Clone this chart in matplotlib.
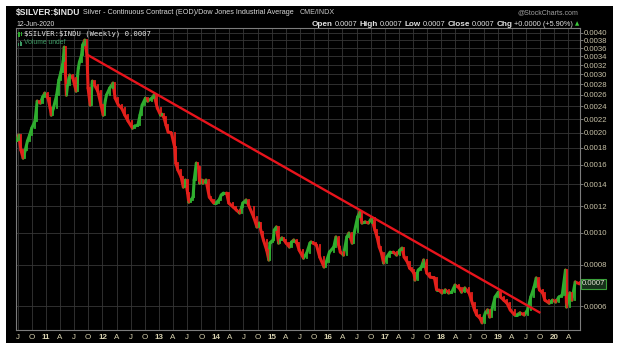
#!/usr/bin/env python3
"""$SILVER:$INDU weekly ratio chart, StockCharts style"""

import numpy as np
import pandas as pd
import matplotlib
matplotlib.use("Agg")
import matplotlib.pyplot as plt
import matplotlib.dates as mdates
from matplotlib.patches import Rectangle
from matplotlib.collections import LineCollection
from matplotlib.ticker import FixedLocator, NullLocator, FuncFormatter

# ---- data ----
START = "2010-06-25"  # week 0

weeks = [0, 2, 4, 6, 8, 10, 12, 14, 17, 19,
         22, 24, 26, 29, 31, 32, 34, 37, 39, 41,
         43, 44, 46, 47, 49, 52, 55, 57, 58, 60,
         61, 63, 65, 66, 68, 70, 72, 75, 78, 80,
         82, 83, 86, 89, 91, 94, 97, 100, 103, 107,
         109, 112, 114, 116, 119, 121, 125, 127, 130, 133,
         134, 136, 138, 140, 143, 146, 147, 149, 152, 154,
         156, 158, 159, 161, 163, 164, 166, 168, 169, 171,
         172, 175, 178, 180, 182, 184, 187, 189, 191, 194,
         196, 200, 203, 206, 208, 209, 212, 215, 219, 222,
         224, 226, 228, 231, 233, 234, 235, 237, 238, 240,
         242, 243, 245, 247, 249, 252, 254, 256, 259, 261,
         265, 268, 271, 272, 274, 277, 280, 284, 286, 289,
         293, 295, 298, 299, 302, 305, 307, 310, 312, 315,
         317, 319, 322, 325, 328, 331, 333, 335, 337, 339,
         342, 345, 348, 351, 354, 356, 358, 361, 363, 365,
         367, 368, 371, 374, 376, 379, 382, 386, 388, 390,
         393, 396, 399, 402, 405, 409, 411, 414, 418, 421,
         423, 425, 428, 430, 433, 435, 437, 439, 442, 445,
         447, 450, 453, 456, 460, 462, 465, 469, 472, 475,
         478, 480, 483, 486, 488, 492, 495, 498, 501, 504,
         507, 508, 511, 513, 516, 520]

ratio = [0.001900, 0.001967, 0.001772, 0.001677, 0.001772, 0.001887, 0.001967, 0.002065, 0.002168, 0.002491,
         0.002457, 0.002561, 0.002633, 0.002543, 0.002373, 0.002260, 0.002373, 0.002597, 0.002882, 0.003047,
         0.003289, 0.003625, 0.002597, 0.002784, 0.002984, 0.002923, 0.002670, 0.003133, 0.003266, 0.003429,
         0.003675, 0.003805, 0.003429, 0.002727, 0.002423, 0.002862, 0.002784, 0.002670, 0.002423, 0.002260,
         0.002508, 0.002597, 0.002727, 0.002823, 0.002543, 0.002423, 0.002373, 0.002260, 0.002168, 0.002065,
         0.002094, 0.002108, 0.002260, 0.002423, 0.002543, 0.002491, 0.002543, 0.002597, 0.002373, 0.002260,
         0.002276, 0.002229, 0.002108, 0.002009, 0.001995, 0.001810, 0.001619, 0.001543, 0.001470, 0.001371,
         0.001439, 0.001315, 0.001235, 0.001253, 0.001279, 0.001439, 0.001619, 0.001575, 0.001409, 0.001439,
         0.001409, 0.001439, 0.001279, 0.001253, 0.001227, 0.001227, 0.001253, 0.001297, 0.001315, 0.001315,
         0.001227, 0.001194, 0.001169, 0.001145, 0.001194, 0.001227, 0.001253, 0.001194, 0.001113, 0.001039,
         0.001068, 0.001003, 0.000949, 0.000885, 0.000826, 0.000929, 0.000936, 0.000949, 0.001017, 0.001039,
         0.000929, 0.000949, 0.000963, 0.000949, 0.000929, 0.000904, 0.000936, 0.000949, 0.000929, 0.000885,
         0.000837, 0.000867, 0.000929, 0.000936, 0.000929, 0.000916, 0.000843, 0.000787, 0.000814, 0.000873,
         0.000904, 0.000969, 0.000904, 0.000873, 0.000855, 0.000969, 0.000996, 0.000929, 0.001003, 0.001113,
         0.001153, 0.001068, 0.001076, 0.001068, 0.001106, 0.001017, 0.000969, 0.000904, 0.000867, 0.000809,
         0.000843, 0.000873, 0.000873, 0.000855, 0.000885, 0.000897, 0.000843, 0.000814, 0.000781, 0.000770,
         0.000754, 0.000719, 0.000770, 0.000787, 0.000826, 0.000754, 0.000734, 0.000729, 0.000671, 0.000671,
         0.000657, 0.000671, 0.000657, 0.000661, 0.000694, 0.000680, 0.000661, 0.000680, 0.000657, 0.000612,
         0.000584, 0.000564, 0.000552, 0.000534, 0.000572, 0.000584, 0.000556, 0.000584, 0.000639, 0.000661,
         0.000639, 0.000625, 0.000612, 0.000584, 0.000564, 0.000564, 0.000572, 0.000564, 0.000584, 0.000639,
         0.000684, 0.000729, 0.000671, 0.000657, 0.000625, 0.000612, 0.000625, 0.000617, 0.000639, 0.000647,
         0.000770, 0.000596, 0.000657, 0.000625, 0.000709, 0.000700]

# resistance line drawn on the chart
trend_dates = ["2011-09-29", "2019-10-03"]
trend_vals = [0.00343, 0.000572]

ytick_vals = [0.0006, 0.0008, 0.0010, 0.0012, 0.0014, 0.0016, 0.0018, 0.0020, 0.0022,
              0.0024, 0.0026, 0.0028, 0.0030, 0.0032, 0.0034, 0.0036, 0.0038, 0.0040]
month_letter = {4: "A", 7: "J", 10: "O"}

quote_row = [("Open", "bold"), ("0.0007", "normal"), ("High", "bold"), ("0.0007", "normal"),
             ("Low", "bold"), ("0.0007", "normal"), ("Close", "bold"), ("0.0007", "normal"),
             ("Chg", "bold"), ("+0.0000 (+5.90%)", "normal")]

GREEN = "#2fae2f"
RED = "#e3201b"
TXT = "#d8d2b0"
NARROW = ["Liberation Sans Narrow", "Liberation Sans"]
W, H = 620, 357


def fx(px):
    return px / W


def fy(py):
    return 1 - py / H


fig = plt.figure(figsize=(W / 100, H / 100), dpi=100)
fig.patch.set_facecolor("white")
fig.add_artist(Rectangle((fx(6), fy(343)), (613 - 6) / W, (343 - 6) / H,
                         transform=fig.transFigure, facecolor="black",
                         edgecolor="none", zorder=0))

ax = fig.add_axes([fx(16), fy(330), (580 - 16) / W, (330 - 28) / H])
ax.set_facecolor("black")

# price trace: segment from previous close to this close, coloured by direction,
# plus a vertical bar at each reading
d = pd.Timestamp(START) + pd.to_timedelta(np.array(weeks) * 7, unit="D")
x = mdates.date2num(d)
v = np.array(ratio)
pv = np.r_[v[0], v[:-1]]
px = np.r_[x[0] - 7, x[:-1]]
up = v >= pv
cols = np.where(up, GREEN, RED)
segs = [[(a, b), (c, e)] for a, b, c, e in zip(px, pv, x, v)]
ax.add_collection(LineCollection(segs, colors=cols, linewidths=2.2, capstyle="round", zorder=3))
ax.vlines(x, np.minimum(pv, v), np.maximum(pv, v), colors=cols, linewidths=1.3,
          capstyle="projecting", zorder=3)

ax.plot(pd.to_datetime(trend_dates), trend_vals, color="#e8141c", lw=1.7,
        solid_capstyle="butt", zorder=4)

ax.set_yscale("log")
ax.set_ylim(0.000508, 0.00414)
ax.set_xlim(x[0] - 4, x[-1] + 3)
ax.yaxis.set_major_locator(FixedLocator(ytick_vals))
ax.yaxis.set_minor_locator(NullLocator())
ax.yaxis.set_major_formatter(FuncFormatter(lambda val, _: f"{val:.4f}"))
ax.yaxis.tick_right()
ax.tick_params(axis="y", colors="#8a8a8a", labelcolor="#c8c2a8", length=2,
               width=0.6, pad=0.5, labelsize=5.6, labelfontfamily="Liberation Sans")

qdates = pd.date_range("2010-07-01", "2020-04-01", freq="QS")
ax.xaxis.set_major_locator(FixedLocator(mdates.date2num(qdates)))
ax.xaxis.set_minor_locator(NullLocator())
ax.set_xticklabels([f"{q.year % 100:02d}" if q.month == 1 else month_letter[q.month] for q in qdates])
ax.tick_params(axis="x", colors=TXT, length=0, pad=3, labelsize=5.8,
               labelfontfamily="Liberation Sans")
for q, lab in zip(qdates, ax.get_xticklabels()):
    if q.month == 1:
        lab.set_fontweight("bold")

ax.grid(True, color="#363636", lw=0.6, zorder=0)
ax.set_axisbelow(True)
for s in ax.spines.values():
    s.set_color("#7c7c7c")
    s.set_linewidth(0.8)

# ---- header texts ----
fig.canvas.draw()
rend = fig.canvas.get_renderer()


def fit(txt, x0, x1, y, size=6, **kw):
    t = fig.text(fx(x0), fy(y), txt, va="center", ha="left", fontsize=size,
                 parse_math=False, **kw)
    w = t.get_window_extent(rend).width
    t.set_fontsize(size * (x1 - x0) / w)
    return t


fit("$SILVER:$INDU", 16, 80, 13, weight="bold", color="#e6e6e6", family=NARROW)
fit("Silver - Continuous Contract (EOD)/Dow Jones Industrial Average", 83, 297, 13,
    color="#d8d8d8", family=NARROW)
fit("CME/INDX", 300, 335, 13, color="#c8c8c8", family=NARROW)
fit("@StockCharts.com", 518, 579, 13, color="#a0a0a0", family=NARROW)
fit("12-Jun-2020", 16, 55, 24, color="#d8d8d8", family=NARROW)

# quote row: one size for labels, one for values, laid out left to right
texts = []
for s, wt in quote_row:
    texts.append(fig.text(0, fy(24), s, va="center", ha="left", weight=wt,
                          fontsize=6.4 if wt == "bold" else 5.8, color="#e0e0e0",
                          family=NARROW, parse_math=False))


def layout(x0, scale):
    xc = x0
    for t, (s, wt) in zip(texts, quote_row):
        t.set_fontsize((6.4 if wt == "bold" else 5.8) * scale)
        t.set_x(fx(xc))
        xc += t.get_window_extent(rend).width + 2.2 * scale
    return xc


end = layout(312, 1.0)
layout(312, (573 - 312) / (end - 312))
fig.text(fx(575), fy(24), "▲", color="#3cc83c", fontsize=4, va="center",
         family="DejaVu Sans")

# legend inside the plot
fit("$SILVER:$INDU (Weekly) 0.0007", 24, 151, 34, color="#e8e8e8", family="DejaVu Sans Mono")
fit("Volume undef", 24, 66, 43, color="#3c9a64", family=NARROW)
fig.add_artist(Rectangle((fx(18), fy(37)), 1.5 / W, 5 / H, transform=fig.transFigure,
                         facecolor=GREEN, edgecolor="none"))
fig.add_artist(Rectangle((fx(20.5), fy(36)), 1.5 / W, 4 / H, transform=fig.transFigure,
                         facecolor=GREEN, edgecolor="none"))
for i, hh in enumerate([3, 5, 4]):
    fig.add_artist(Rectangle((fx(18 + i * 1.6), fy(46)), 1.1 / W, hh / H,
                             transform=fig.transFigure, facecolor="#3c9a64", edgecolor="none"))

# last value tag on the right axis
ax.text(1.003, ratio[-1], "0.0007", transform=ax.get_yaxis_transform(), va="center",
        ha="left", fontsize=5.6, color="#e0e0d0", family="Liberation Sans", zorder=6,
        bbox=dict(boxstyle="square,pad=0.15", facecolor="#16301a", edgecolor="#3aa03a", lw=0.8),
        clip_on=False)

fig.savefig("out.png", dpi=100, facecolor=fig.get_facecolor())
